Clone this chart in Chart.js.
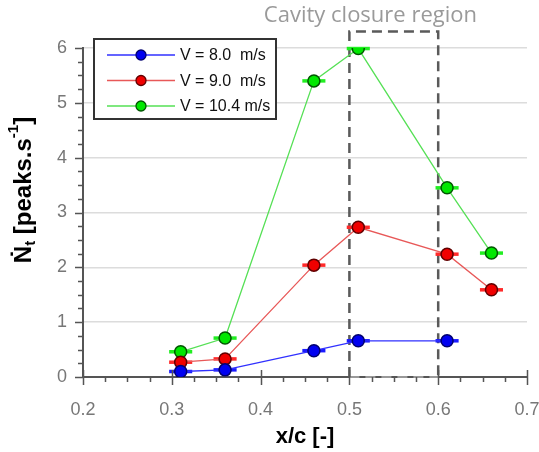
<!DOCTYPE html>
<html>
<head>
<meta charset="utf-8">
<script src="https://cdn.jsdelivr.net/npm/chart.js@4/dist/chart.umd.min.js"></script>
<style>
  html, body { margin: 0; padding: 0; background: #fff; }
  #wrap { width: 539px; height: 452px; position: relative; }
</style>
</head>
<body>
<div id="wrap"><canvas id="chart"></canvas></div>
<script>
// measurement positions (x/c) and peak rates per velocity
const xBlue = [0.31, 0.36, 0.46, 0.51, 0.61];
const yBlue = [0.10, 0.13, 0.48, 0.66, 0.66];
const xRed = [0.31, 0.36, 0.46, 0.51, 0.61, 0.66];
const yRed = [0.27, 0.33, 2.04, 2.73, 2.24, 1.59];
const xGreen = [0.31, 0.36, 0.46, 0.51, 0.61, 0.66];
const yGreen = [0.46, 0.71, 5.40, 5.99, 3.45, 2.26];
const xErr = 0.013;

const seriesLabels = ["V = 8.0  m/s", "V = 9.0  m/s", "V = 10.4 m/s"];
const xTicks = [0.2, 0.3, 0.4, 0.5, 0.6, 0.7];
const yTicks = [0, 1, 2, 3, 4, 5, 6];

// closure region box
const regionX = [0.5, 0.6];
const regionTop = 6.3;
const regionLabel = "Cavity closure region";

const styles = [
  { line: "#3030ff", fill: "#0000f0", edge: "#000070", bar: "#1a1aff" },
  { line: "#e85858", fill: "#f00000", edge: "#600000", bar: "#ff2a2a" },
  { line: "#55e055", fill: "#00e800", edge: "#005500", bar: "#22ee22" }
];

function pts(xs, ys) {
  return xs.map((x, i) => ({ x: x, y: ys[i] }));
}

const series = [pts(xBlue, yBlue), pts(xRed, yRed), pts(xGreen, yGreen)];

const datasets = series.map((d, i) => ({
  label: seriesLabels[i],
  data: d,
  borderColor: styles[i].line,
  borderWidth: 1.3,
  pointRadius: 6,
  pointHoverRadius: 6,
  pointBorderWidth: 1.5,
  pointBackgroundColor: styles[i].fill,
  pointBorderColor: styles[i].edge,
  tension: 0
}));

const decor = {
  id: "decor",
  beforeDatasetsDraw(chart) {
    const { ctx, scales: { x, y } } = chart;
    // dashed region box
    ctx.save();
    const l = x.getPixelForValue(regionX[0]), r = x.getPixelForValue(regionX[1]);
    const t = y.getPixelForValue(regionTop), b = y.getPixelForValue(0);
    ctx.strokeStyle = "#999";
    ctx.lineWidth = 2;
    ctx.setLineDash([10, 6]);
    ctx.beginPath();
    ctx.moveTo(l, b); ctx.lineTo(r, b);
    ctx.stroke();
    ctx.strokeStyle = "#5a5a5a";
    ctx.lineWidth = 2.5;
    ctx.beginPath();
    ctx.moveTo(l, b); ctx.lineTo(l, t); ctx.lineTo(r, t); ctx.lineTo(r, b);
    ctx.stroke();
    ctx.setLineDash([]);
    ctx.fillStyle = "#9a9a9a";
    ctx.font = "22px 'Open Sans'";
    ctx.textAlign = "center";
    ctx.textBaseline = "middle";
    ctx.fillText(regionLabel, l + 21, t - 16);

    // horizontal error bars
    series.forEach((d, i) => {
      ctx.strokeStyle = styles[i].bar;
      ctx.lineWidth = 3.5;
      d.forEach(p => {
        const py = y.getPixelForValue(p.y);
        ctx.beginPath();
        ctx.moveTo(x.getPixelForValue(p.x - xErr), py);
        ctx.lineTo(x.getPixelForValue(p.x + xErr), py);
        ctx.stroke();
      });
    });
    ctx.restore();
  },
  afterDraw(chart) {
    const { ctx, chartArea: a, scales: { x, y } } = chart;
    ctx.save();
    // axis ticks
    ctx.strokeStyle = "#555";
    ctx.lineWidth = 1.5;
    ctx.beginPath();
    for (let v = 0.2; v <= 0.7001; v += 0.025) {
      const px = Math.round(x.getPixelForValue(v)) + 0.5;
      const major = Math.abs(v * 10 - Math.round(v * 10)) < 1e-6;
      ctx.moveTo(px, a.bottom - (major ? 7 : 0));
      ctx.lineTo(px, a.bottom + (major ? 8 : 5));
    }
    for (let v = 0; v <= 6.0001; v += 0.25) {
      const py = Math.round(y.getPixelForValue(v)) + 0.5;
      const major = Math.abs(v - Math.round(v)) < 1e-6;
      ctx.moveTo(a.left - (major ? 8 : 5), py);
      ctx.lineTo(a.left, py);
    }
    ctx.stroke();

    // legend box
    const bx = 94, by = 39, bw = 182, bh = 80;
    ctx.fillStyle = "#fff";
    ctx.fillRect(bx, by, bw, bh);
    ctx.strokeStyle = "#333";
    ctx.lineWidth = 2;
    ctx.strokeRect(bx, by, bw, bh);
    seriesLabels.forEach((lab, i) => {
      const ry = by + 16 + i * 25.5;
      ctx.strokeStyle = styles[i].line;
      ctx.lineWidth = 1.5;
      ctx.beginPath();
      ctx.moveTo(107, ry); ctx.lineTo(175, ry);
      ctx.stroke();
      ctx.beginPath();
      ctx.arc(141, ry, 5, 0, Math.PI * 2);
      ctx.fillStyle = styles[i].fill;
      ctx.fill();
      ctx.strokeStyle = styles[i].edge;
      ctx.lineWidth = 1.3;
      ctx.stroke();
      ctx.fillStyle = "#111";
      ctx.font = "16px 'Liberation Sans'";
      ctx.textAlign = "left";
      ctx.textBaseline = "middle";
      ctx.fillText(lab, 180, ry + 1);
    });

    // y axis title with dotted N, subscript and superscript
    const big = "bold 24px 'Liberation Sans', 'DejaVu Sans'";
    const small = "bold 15px 'Liberation Sans', 'DejaVu Sans'";
    const parts = [
      { t: "\u1E44", f: big, dy: 0 },
      { t: "t", f: small, dy: 7 },
      { t: " [peaks.s", f: big, dy: 0 },
      { t: "-1", f: small, dy: -10 },
      { t: "]", f: big, dy: 0 }
    ];
    let total = 0;
    parts.forEach(p => { ctx.font = p.f; p.w = ctx.measureText(p.t).width; total += p.w; });
    ctx.translate(24, 190);
    ctx.rotate(-Math.PI / 2);
    ctx.fillStyle = "#000";
    ctx.textAlign = "left";
    ctx.textBaseline = "middle";
    let cx = -total / 2;
    parts.forEach(p => {
      ctx.font = p.f;
      ctx.fillText(p.t, cx, p.dy);
      cx += p.w;
    });
    ctx.restore();
  }
};

new Chart(document.getElementById("chart"), {
  type: "line",
  data: { datasets: datasets },
  plugins: [decor],
  options: {
    responsive: true,
    maintainAspectRatio: false,
    animation: false,
    layout: { padding: { left: 0, right: 12, top: 48, bottom: 2 } },
    plugins: { legend: { display: false }, tooltip: { enabled: false } },
    scales: {
      x: {
        type: "linear",
        min: 0.2,
        max: 0.7,
        afterFit(s) { s.height = 73; s.paddingLeft = 0; s.paddingRight = 0; },
        afterBuildTicks(s) { s.ticks = xTicks.map(v => ({ value: v })); },
        grid: { display: false, drawTicks: false },
        border: { color: "#555", width: 2 },
        ticks: {
          padding: 22,
          color: "#777",
          font: { family: "'Liberation Sans'", size: 18 },
          callback: v => v.toFixed(1)
        },
        title: {
          display: true,
          text: "x/c [-]",
          color: "#000",
          font: { family: "'Liberation Sans'", size: 22, weight: "bold" },
          padding: { top: 0, bottom: 0 }
        }
      },
      y: {
        min: 0,
        max: 6,
        afterFit(s) { s.width = 83; s.paddingTop = 0; s.paddingBottom = 0; },
        afterBuildTicks(s) { s.ticks = yTicks.map(v => ({ value: v })); },
        grid: {
          drawTicks: false,
          lineWidth: 1.5,
          color: c => (c.tick && c.tick.value === 0 ? "rgba(0,0,0,0)" : "#dcdcdc")
        },
        border: { color: "#555", width: 2 },
        ticks: {
          padding: 16,
          color: "#777",
          font: { family: "'Liberation Sans'", size: 18 }
        }
      }
    }
  }
});
</script>
</body>
</html>
